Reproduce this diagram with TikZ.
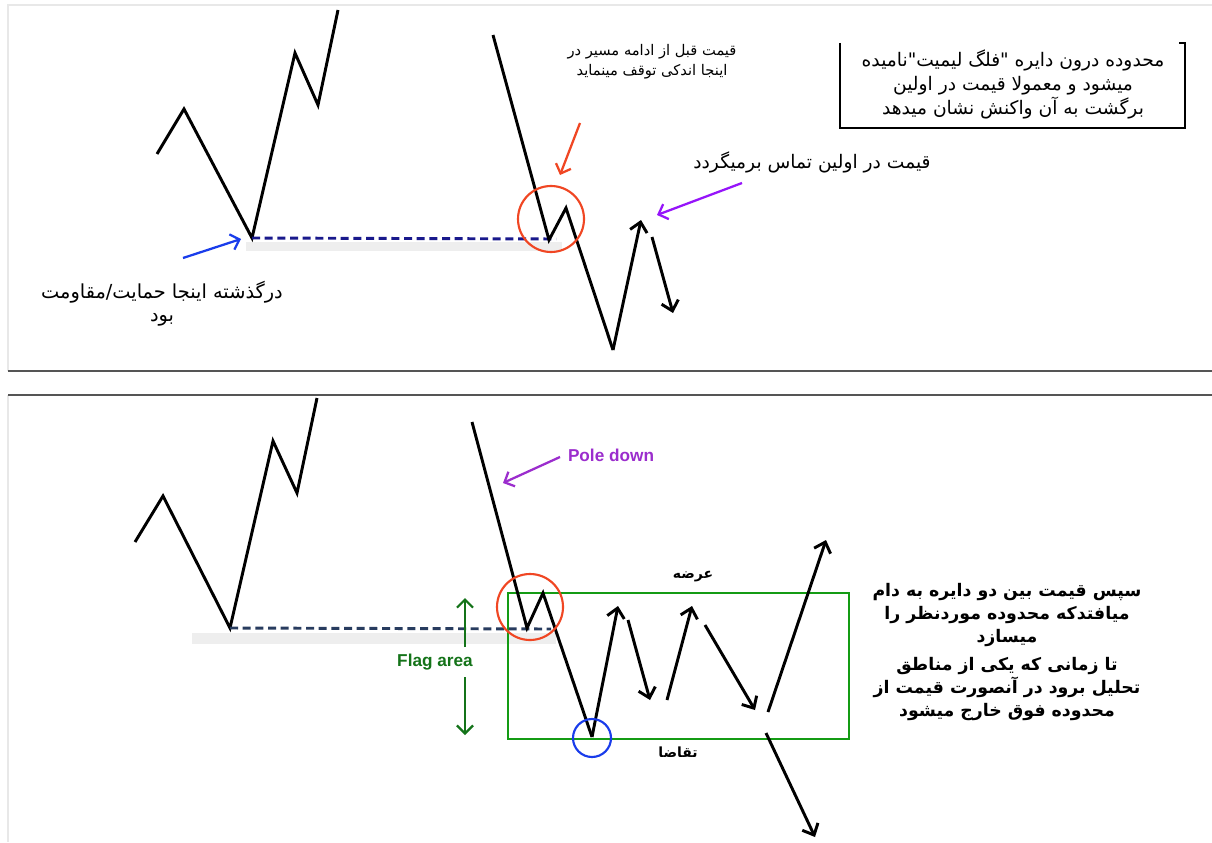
\documentclass[tikz,border=0pt]{standalone}
\usepackage{fontspec}
\setmainfont{Liberation Sans}
\newfontfamily\fa[Script=Arabic]{DejaVu Sans}
\TeXXeTstate=1
\usetikzlibrary{arrows.meta}
\definecolor{navyd}{RGB}{25,25,140}
\definecolor{slated}{RGB}{40,60,95}
\definecolor{redc}{RGB}{240,70,35}
\definecolor{violetc}{RGB}{150,20,250}
\definecolor{poleC}{RGB}{155,45,205}
\definecolor{bluec}{RGB}{25,60,235}
\definecolor{greenr}{RGB}{20,155,20}
\definecolor{greenf}{RGB}{20,115,25}
\definecolor{sepc}{RGB}{85,85,85}
\tikzset{
  price/.style={line width=2.2pt, black, line join=miter},
  parrow/.style={line width=2.2pt, black, -{Straight Barb[length=7pt,width=13pt,line width=2.2pt]}},
  cue/.style={line width=1.7pt, -{Straight Barb[length=6pt,width=12pt,line width=1.7pt]}},
  levdash/.style={line width=2.2pt, dash pattern=on 6pt off 3.5pt},
  fatxt/.style={inner sep=0pt, align=center, font=\fa},
}
\begin{document}
\begin{tikzpicture}[x=0.75pt,y=-0.75pt]
\useasboundingbox (0,0) rectangle (1212,842);
\fill[white] (0,0) rectangle (1212,842);
% panel frames
\draw[gray!18, line width=1.2pt] (8,371) -- (8,5) -- (1212,5);
\draw[gray!18, line width=1.2pt] (8,395) -- (8,842);
\draw[sepc, line width=1.8pt] (8,371) -- (1212,371);
\draw[sepc, line width=1.8pt] (8,395) -- (1212,395);

% ================= TOP PANEL =================
\coordinate (a1) at (157,154);
\coordinate (a2) at (184,109);
\coordinate (a3) at (252,238);
\coordinate (a4) at (295,53);
\coordinate (a5) at (318,105);
\coordinate (a6) at (338,10);
\coordinate (b0) at (493,35);
\coordinate (b1) at (549,240);
\coordinate (b2) at (566,208);
\coordinate (b3) at (613,350);
\coordinate (b4) at (641,220);
\coordinate (c0) at (652,237);
\coordinate (c1) at (673,313);
\coordinate (dend) at (556,239);
\fill[gray!13] (246,242) rectangle (562,251);
\draw[price] (a1) -- (a2) -- (a3) -- (a4) -- (a5) -- (a6);
\draw[levdash, navyd] (a3) -- (dend);
\draw[price] (b0) -- (b1) -- (b2) -- (b3);
\draw[parrow] (b3) -- (b4);
\draw[parrow] (c0) -- (c1);
\node[draw=redc, line width=1.6pt, circle, minimum size=49.5pt, inner sep=0pt] (rc1) at (551,219) {};
\coordinate (ra0) at (580,123);
\coordinate (ra1) at (560,175);
\draw[cue, redc] (ra0) -- (ra1);
\coordinate (va0) at (742,183);
\coordinate (va1) at (657,215);
\draw[cue, violetc] (va0) -- (va1);
\coordinate (ba0) at (183,258);
\coordinate (ba1) at (241,239);
\draw[cue, bluec] (ba0) -- (ba1);

\node[fatxt, font=\fa\fontsize{11}{15}\selectfont] (tnote) at (652,62)
  {\beginR قیمت قبل از ادامه مسیر در\endR\\\beginR اینجا اندکی توقف مینماید\endR};
\node[fatxt, font=\fa\fontsize{14}{18}\selectfont] (tbox) at (1013,84)
  {\beginR محدوده درون دایره "فلگ لیمیت"نامیده\endR\\\beginR میشود و معمولا قیمت در اولین\endR\\\beginR برگشت به آن واکنش نشان میدهد\endR};
\coordinate (bx1) at (840,43);
\coordinate (bx2) at (840,128);
\coordinate (bx3) at (1185,128);
\coordinate (bx4) at (1185,43);
\coordinate (bx5) at (1179,43);
\draw[black, line width=1.6pt] (bx1) -- (bx2) -- (bx3) -- (bx4) -- (bx5);
\node[fatxt, font=\fa\fontsize{14}{17}\selectfont] (tback) at (812,162)
  {\beginR قیمت در اولین تماس برمیگردد\endR};
\node[fatxt, font=\fa\fontsize{14.5}{17.5}\selectfont] (tpast) at (162,304)
  {\beginR درگذشته اینجا حمایت/مقاومت\endR\\\beginR بود\endR};

% ================= BOTTOM PANEL =================
\coordinate (p1) at (135,542);
\coordinate (p2) at (163,496);
\coordinate (p3) at (230,628);
\coordinate (p4) at (273,441);
\coordinate (p5) at (297,493);
\coordinate (p6) at (317,398);
\coordinate (q0) at (472,422);
\coordinate (q1) at (527,628);
\coordinate (q2) at (543,593);
\coordinate (q3) at (592,737);
\coordinate (q4) at (618,606);
\coordinate (s1a) at (628,620);
\coordinate (s1b) at (650,700);
\coordinate (s2a) at (667,700);
\coordinate (s2b) at (692,606);
\coordinate (s3a) at (705,625);
\coordinate (s3b) at (755,710);
\coordinate (s4a) at (768,712);
\coordinate (s4b) at (826,540);
\coordinate (s5a) at (766,733);
\coordinate (s5b) at (815,837);
\coordinate (qend) at (551,629);
\fill[gray!13] (192,633) rectangle (556,644);
\draw[price] (p1) -- (p2) -- (p3) -- (p4) -- (p5) -- (p6);
\draw[levdash, slated] (p3) -- (qend);
\node[draw=greenr, line width=1.6pt, minimum width=255.75pt, minimum height=109.5pt, inner sep=0pt] (flagbox) at (678.5,666) {};
\draw[price] (q0) -- (q1) -- (q2) -- (q3);
\draw[parrow] (q3) -- (q4);
\draw[parrow] (s1a) -- (s1b);
\draw[parrow] (s2a) -- (s2b);
\draw[parrow] (s3a) -- (s3b);
\draw[parrow] (s4a) -- (s4b);
\draw[parrow] (s5a) -- (s5b);
\node[draw=redc, line width=1.6pt, circle, minimum size=49.5pt, inner sep=0pt] (rc2) at (530,607) {};
\node[draw=bluec, line width=1.6pt, circle, minimum size=28.5pt, inner sep=0pt] (bc2) at (592,738) {};

\node[inner sep=0pt, text=greenf, font=\bfseries\fontsize{12.9}{14}\selectfont] (flag) at (435,662) {Flag area};
\coordinate (fu0) at (465,647);
\coordinate (fu1) at (465,598);
\coordinate (fd0) at (465,677);
\coordinate (fd1) at (465,735);
\draw[cue, greenf] (fu0) -- (fu1);
\draw[cue, greenf] (fd0) -- (fd1);

\node[inner sep=0pt, text=poleC, font=\bfseries\fontsize{12.9}{14}\selectfont] (pole) at (611,455) {Pole down};
\coordinate (pa0) at (560,457);
\coordinate (pa1) at (503,483);
\draw[cue, poleC] (pa0) -- (pa1);

\node[fatxt, font=\fa\bfseries\fontsize{10.5}{12}\selectfont] (supply) at (693,577) {\beginR عرضه\endR};
\node[fatxt, font=\fa\bfseries\fontsize{10.5}{12}\selectfont] (demand) at (678,752) {\beginR تقاضا\endR};

\node[fatxt, font=\fa\bfseries\fontsize{13}{17}\selectfont] (rt1) at (1007,615)
  {\beginR سپس قیمت بین دو دایره به دام\endR\\\beginR میافتدکه محدوده موردنظر را\endR\\\beginR میسازد\endR};
\node[fatxt, font=\fa\bfseries\fontsize{13}{17}\selectfont] (rt2) at (1007,689)
  {\beginR تا زمانی که یکی از مناطق\endR\\\beginR تحلیل برود در آنصورت قیمت از\endR\\\beginR محدوده فوق خارج میشود\endR};
\end{tikzpicture}
\end{document}
